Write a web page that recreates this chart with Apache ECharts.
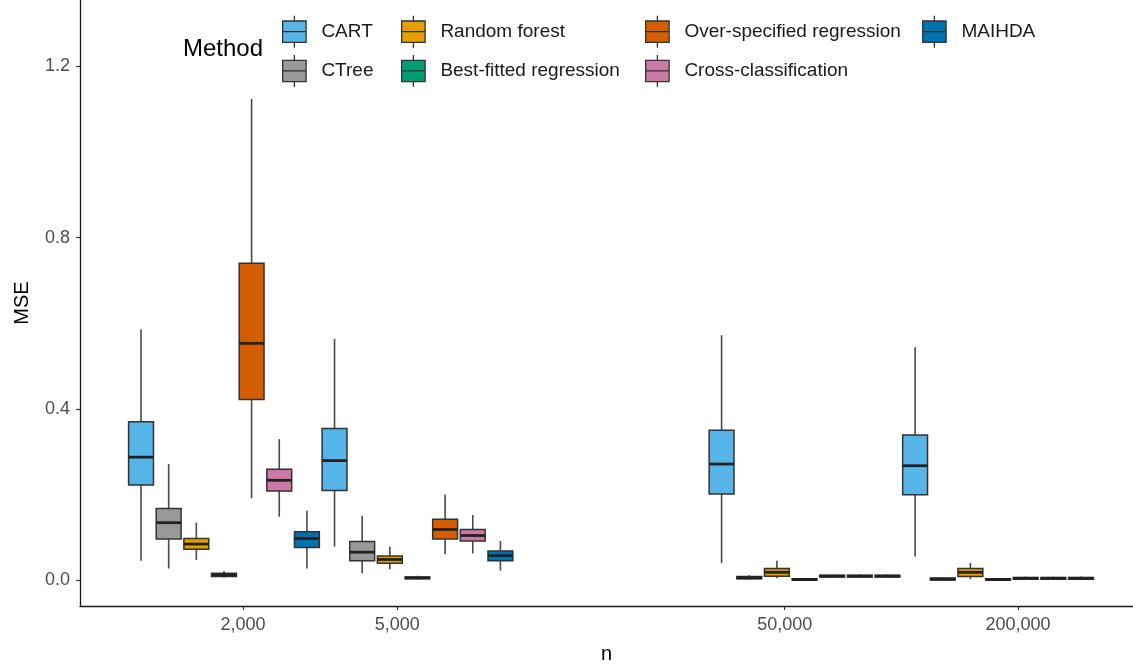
<!DOCTYPE html>
<html>
<head>
<meta charset="utf-8">
<script src="https://cdn.jsdelivr.net/npm/echarts@6/dist/echarts.min.js"></script>
<style>
  html, body { margin: 0; padding: 0; background: #ffffff; }
  #chart { width: 1133px; height: 664px; }
</style>
</head>
<body>
<div id="chart"></div>
<script>
// Sample sizes shown on the n axis
const nLevels = [2000, 5000, 50000, 200000];
// Factor levels of n along the box axis; the empty level leaves a blank group
const boxGroups = ['2,000', '5,000', '', '50,000', '200,000'];

const methods = [
  'CART', 'CTree', 'Random forest', 'Best-fitted regression',
  'Over-specified regression', 'Cross-classification', 'MAIHDA'
];
const methodColors = ['#56B4E9', '#999999', '#E69F00', '#009E73', '#D55E00', '#CC79A7', '#0072B2'];

// Box statistics [min, Q1, median, Q3, max], one row per n level
const cart = [
  [0.045, 0.222, 0.287, 0.370, 0.586],
  [0.078, 0.209, 0.279, 0.354, 0.563],
  [0.040, 0.201, 0.271, 0.350, 0.572],
  [0.055, 0.199, 0.267, 0.339, 0.544]
];
const ctree = [
  [0.027, 0.096, 0.134, 0.167, 0.271],
  [0.016, 0.045, 0.065, 0.090, 0.150],
  [0.001, 0.003, 0.005, 0.008, 0.011],
  [0.000, 0.000, 0.002, 0.005, 0.007]
];
const randomForest = [
  [0.047, 0.072, 0.084, 0.097, 0.134],
  [0.025, 0.039, 0.048, 0.056, 0.078],
  [0.004, 0.009, 0.018, 0.027, 0.045],
  [0.002, 0.008, 0.018, 0.027, 0.040]
];
const bestFitted = [
  [0.006, 0.008, 0.012, 0.016, 0.021],
  [0.001, 0.003, 0.005, 0.007, 0.010],
  [0.000, 0.000, 0.001, 0.003, 0.005],
  [0.000, 0.000, 0.001, 0.003, 0.005]
];
const overSpecified = [
  [0.191, 0.422, 0.553, 0.740, 1.124],
  [0.060, 0.096, 0.118, 0.142, 0.200],
  [0.006, 0.007, 0.009, 0.011, 0.013],
  [0.001, 0.002, 0.004, 0.006, 0.008]
];
const crossClass = [
  [0.148, 0.208, 0.233, 0.259, 0.329],
  [0.062, 0.091, 0.104, 0.118, 0.152],
  [0.006, 0.007, 0.009, 0.011, 0.013],
  [0.001, 0.002, 0.004, 0.006, 0.008]
];
const maihda = [
  [0.027, 0.076, 0.097, 0.113, 0.162],
  [0.022, 0.045, 0.057, 0.068, 0.091],
  [0.006, 0.007, 0.009, 0.011, 0.013],
  [0.001, 0.002, 0.004, 0.006, 0.008]
];
const methodStats = [cart, ctree, randomForest, bestFitted, overSpecified, crossClass, maihda];

const yTicks = [0, 0.4, 0.8, 1.2];

const fmtN = n => n.toLocaleString('en-US');

// One slot per (n level, method) on the hidden box axis
const slots = [];
boxGroups.forEach(g => methods.forEach(m => slots.push(g + '|' + m)));

const AXIS_COLOR = '#1a1a1a';
const OUTLINE = '#333333';

// ggplot-style box: whisker lines without caps, filled box, heavy median bar
function renderBox(params, api) {
  const x = api.value(0);
  const pMin = api.coord([x, api.value(1)]);
  const pQ1 = api.coord([x, api.value(2)]);
  const pMed = api.coord([x, api.value(3)]);
  const pQ3 = api.coord([x, api.value(4)]);
  const pMax = api.coord([x, api.value(5)]);
  const cx = pMed[0];
  const half = api.size([1, 0])[0] * 0.45;
  const fill = api.visual('color');
  return {
    type: 'group',
    children: [
      { type: 'line', shape: { x1: cx, y1: pQ3[1], x2: cx, y2: pMax[1] },
        style: { stroke: '#4a4a4a', lineWidth: 1.6 } },
      { type: 'line', shape: { x1: cx, y1: pQ1[1], x2: cx, y2: pMin[1] },
        style: { stroke: '#4a4a4a', lineWidth: 1.6 } },
      { type: 'rect', shape: { x: cx - half, y: pQ3[1], width: half * 2, height: Math.max(pQ1[1] - pQ3[1], 0.5) },
        style: { fill: fill, stroke: OUTLINE, lineWidth: 1.5 } },
      { type: 'line', shape: { x1: cx - half, y1: pMed[1], x2: cx + half, y2: pMed[1] },
        style: { stroke: '#222222', lineWidth: 2.8 } }
    ]
  };
}

const series = methods.map((m, mi) => ({
  type: 'custom',
  name: m,
  xAxisIndex: 1,
  yAxisIndex: 1,
  renderItem: renderBox,
  itemStyle: { color: methodColors[mi], borderColor: OUTLINE, borderWidth: 1.3 },
  encode: { x: 0, y: [1, 2, 3, 4, 5] },
  data: methodStats[mi].map((s, gi) => {
    const slot = boxGroups.indexOf(fmtN(nLevels[gi])) * methods.length + mi;
    return [slot].concat(s);
  })
}));

// Legend key drawn as a small box with median and whisker stubs
const keyIcon = 'path://M12,0L12,5M1,5L23,5L23,25L1,25ZM1,15L23,15M12,25L12,30';

const legendColumns = [
  { left: 277, data: ['CART', 'CTree'] },
  { left: 396, data: ['Random forest', 'Best-fitted regression'] },
  { left: 640, data: ['Over-specified regression', 'Cross-classification'] },
  { left: 917, data: ['MAIHDA'] }
];

const legends = legendColumns.map(c => ({
  orient: 'vertical',
  left: c.left,
  top: 10,
  data: c.data,
  icon: keyIcon,
  itemWidth: 24,
  itemHeight: 32,
  itemGap: 6,
  selectedMode: false,
  itemStyle: { borderColor: OUTLINE, borderWidth: 1.3 },
  textStyle: { fontSize: 19, color: '#1a1a1a', fontFamily: 'Liberation Sans, Arial, sans-serif', padding: [0, 0, 0, 10] }
}));

const yMin = -0.0607, yMax = 1.3551;

const option = {
  animation: false,
  backgroundColor: '#ffffff',
  textStyle: { fontFamily: 'Liberation Sans, Arial, sans-serif' },
  title: {
    text: 'Method',
    left: 178,
    top: 32,
    textStyle: { fontSize: 24, fontWeight: 'normal', color: '#000000', fontFamily: 'Liberation Sans, Arial, sans-serif' }
  },
  legend: legends,
  grid: [
    { left: 80, right: 0, top: 0, bottom: 58, outerBoundsMode: 'none', containLabel: false },
    { left: 127.2, right: 38.2, top: 0, bottom: 58, outerBoundsMode: 'none', containLabel: false }
  ],
  xAxis: [
    {
      type: 'value',
      gridIndex: 0,
      min: 2.8804,
      max: 5.5978,
      name: 'n',
      nameLocation: 'middle',
      nameGap: 38,
      nameTextStyle: { fontSize: 20, color: '#000000' },
      axisLine: { show: true, onZero: false, lineStyle: { color: AXIS_COLOR, width: 1.3 } },
      axisTick: { show: true, length: 4, customValues: nLevels.map(Math.log10), lineStyle: { color: OUTLINE, width: 1.2 } },
      axisLabel: {
        customValues: nLevels.map(Math.log10),
        formatter: v => fmtN(Math.round(Math.pow(10, v))),
        fontSize: 18, color: '#4d4d4d', margin: 10
      },
      splitLine: { show: false }
    },
    {
      type: 'category',
      gridIndex: 1,
      data: slots,
      boundaryGap: true,
      show: false
    }
  ],
  yAxis: [
    {
      type: 'value',
      gridIndex: 0,
      min: yMin,
      max: yMax,
      name: 'MSE',
      nameLocation: 'middle',
      nameGap: 48,
      nameTextStyle: { fontSize: 20, color: '#000000' },
      axisLine: { show: true, onZero: false, lineStyle: { color: AXIS_COLOR, width: 1.3 } },
      axisTick: { show: true, length: 4, customValues: yTicks, lineStyle: { color: OUTLINE, width: 1.2 } },
      axisLabel: {
        customValues: yTicks,
        formatter: v => v.toFixed(1),
        fontSize: 18, color: '#4d4d4d', margin: 10
      },
      splitLine: { show: false }
    },
    {
      type: 'value',
      gridIndex: 1,
      min: yMin,
      max: yMax,
      show: false,
      splitLine: { show: false }
    }
  ],
  series: series
};

const chart = echarts.init(document.getElementById('chart'), null, { renderer: 'canvas' });
chart.setOption(option);
</script>
</body>
</html>
